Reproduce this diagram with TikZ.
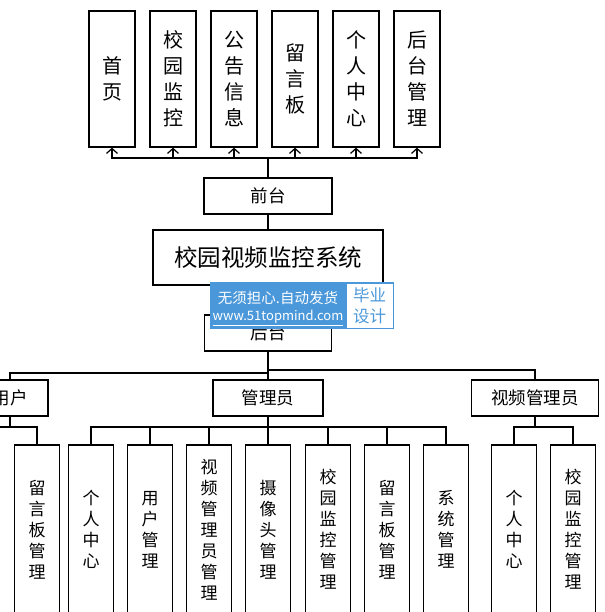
\documentclass[tikz,border=0pt]{standalone}
\usepackage{fontspec}
\usepackage{xcolor}
\usepackage{tikz}
\usetikzlibrary{arrows.meta, positioning}
\newfontfamily\cjk{Noto Sans CJK SC}
\definecolor{wmblue}{HTML}{4A98DA}

\begin{document}
\begin{tikzpicture}[
    x=1pt, y=-1pt,
    topbox/.style={draw, line width=1.3pt, minimum width=46pt, minimum height=136pt, inner sep=0pt, align=center, font=\cjk\fontsize{20}{26}\selectfont},
    midbox/.style={draw, line width=1.3pt, minimum height=36pt, inner sep=0pt, font=\cjk\fontsize{17.5}{20}\selectfont},
    subbox/.style={draw, line width=1.3pt, minimum width=45pt, minimum height=169pt, inner sep=0pt, align=center, font=\cjk\fontsize{17}{21}\selectfont},
    link/.style={line width=1.2pt},
    uparrow/.style={link, -{Straight Barb[length=5pt, width=11pt]}},
    wmtext/.style={inner sep=0pt, text=white, font=\cjk\fontsize{14.5}{16}\selectfont}
]
\useasboundingbox (0,0) rectangle (604,612);
\clip (0,0) rectangle (604,612);

% Front pages
\node[topbox] (t1) at (112,79) {首\\页};
\node[topbox] (t2) at (173,79) {校\\园\\监\\控};
\node[topbox] (t3) at (234,79) {公\\告\\信\\息};
\node[topbox] (t4) at (295,79) {留\\言\\板};
\node[topbox] (t5) at (356,79) {个\\人\\中\\心};
\node[topbox] (t6) at (417,79) {后\\台\\管\\理};

% Centre column
\node[midbox, minimum width=128pt] (front) at (268,196) {前台};
\node[midbox, minimum width=230pt, minimum height=55pt, font=\cjk\fontsize{23.5}{26}\selectfont] (sys) at (268,257.5) {校园视频监控系统};
\node[midbox, minimum width=127pt] (back) at (268,333) {后台};

% Roles
\node[midbox, minimum width=76pt] (user) at (10,398) {用户};
\node[midbox, minimum width=110pt] (admin) at (268,398) {管理员};
\node[midbox, minimum width=127pt] (vadmin) at (535,398) {视频管理员};

% User modules
\node[subbox] (u1) at (37,529.5) {留\\言\\板\\管\\理};

% Admin modules
\node[subbox] (a1) at (91,529.5) {个\\人\\中\\心};
\node[subbox] (a2) at (150,529.5) {用\\户\\管\\理};
\node[subbox] (a3) at (209,529.5) {视\\频\\管\\理\\员\\管\\理};
\node[subbox] (a4) at (268,529.5) {摄\\像\\头\\管\\理};
\node[subbox] (a5) at (328,529.5) {校\\园\\监\\控\\管\\理};
\node[subbox] (a6) at (387,529.5) {留\\言\\板\\管\\理};
\node[subbox] (a7) at (446,529.5) {系\\统\\管\\理};

% Video admin modules
\node[subbox] (v1) at (514,529.5) {个\\人\\中\\心};
\node[subbox] (v2) at (573,529.5) {校\\园\\监\\控\\管\\理};

% Bus points
\coordinate (topbus) at (268,158);
\coordinate (rbus) at (268,370);
\coordinate (lbus) at (268,373);
\coordinate (ubus) at (10,427);
\coordinate (uedge) at (0,427);
\coordinate (abus) at (268,427);
\coordinate (vbus) at (535,427);

% Front connectors
\draw[link] (front.north) -- (topbus);
\foreach \t in {t1,t2,t3,t4,t5,t6}
  \draw[uparrow] (topbus) -| (\t.south);
\draw[link] (front.south) -- (sys.north);
\draw[link] (sys.south) -- (back.north);

% Back connectors
\draw[link] (back.south) -- (admin.north);
\draw[link] (rbus) -| (vadmin.north);
\draw[link] (lbus) -| (user.north);

\draw[link] (user.south) -- (ubus);
\draw[link] (uedge) -| (u1.north);

\draw[link] (admin.south) -- (abus);
\foreach \m in {a1,a2,a3,a4,a5,a6,a7}
  \draw[link] (abus) -| (\m.north);

\draw[link] (vadmin.south) -- (vbus);
\draw[link] (vbus) -| (v1.north);
\draw[link] (vbus) -| (v2.north);

% Watermark
\node[fill=wmblue, minimum width=184pt, minimum height=47pt, inner sep=0pt, anchor=north west] (wm) at (210,282) {};
\node[fill=white, minimum width=46pt, minimum height=44pt, inner sep=0pt, anchor=north east] (wmtag) at ([xshift=-1.5pt, yshift=-1.5pt]wm.north east) {};
\node[wmtext] (wmline1) at (278,298) {无须担心.自动发货};
\node[wmtext, font=\cjk\fontsize{13}{16}\selectfont] (wmline2) at (278,318) {\underline{www.51topmind.com}};
\node[inner sep=0pt, align=center, text=wmblue, font=\cjk\fontsize{16.5}{21}\selectfont] (wmlabel) at (wmtag.center) {毕业\\设计};

\end{tikzpicture}
\end{document}
